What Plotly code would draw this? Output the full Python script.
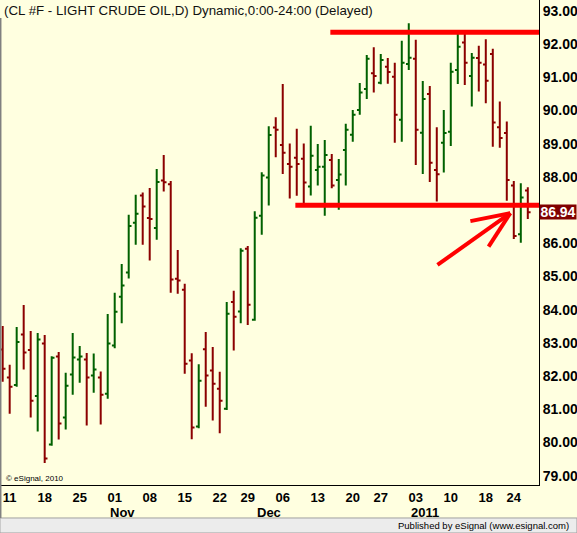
import plotly.graph_objects as go
import pandas as pd

# dias de negociacion (sin fines de semana ni festivos)
holidays = ["2010-11-25", "2010-12-24", "2011-01-17"]
dates = [d for d in pd.bdate_range("2010-10-08", "2011-01-26") if d.strftime("%Y-%m-%d") not in holidays]

open_ = [82.80, 81.96, 81.73, 83.25, 82.79, 81.40, 82.98, 79.94, 82.59, 80.75,
         82.05, 82.50, 82.50, 82.02, 81.96, 81.47, 82.92, 84.39, 85.12, 86.62,
         87.44, 86.76, 86.46, 87.89, 87.78, 84.93, 84.60, 82.47, 80.48, 82.81,
         82.17, 81.62, 81.02, 84.23, 83.95, 85.84, 83.70, 86.83, 87.98, 89.49,
         88.96, 88.39, 88.58, 88.55, 87.71, 88.21, 88.31, 88.51, 87.91, 88.81,
         89.27, 90.02, 90.65, 91.12, 90.84, 91.32, 91.02, 89.72, 91.40, 91.56,
         89.33, 90.50, 88.21, 89.03, 89.36, 91.22, 92.05, 91.04, 91.58, 91.39,
         91.70, 89.50, 89.32, 87.74, 86.27, 87.59]
high = [83.51, 82.34, 83.48, 84.14, 83.36, 83.30, 83.24, 82.60, 82.73, 82.10,
        83.30, 82.91, 82.70, 82.68, 82.14, 83.87, 84.51, 85.38, 86.86, 87.46,
        87.53, 87.67, 88.24, 88.66, 87.88, 85.80, 84.78, 82.69, 82.36, 83.33,
        82.88, 82.13, 84.23, 84.57, 85.85, 85.92, 86.97, 88.14, 89.53, 89.80,
        90.80, 89.01, 89.45, 89.01, 89.54, 88.99, 89.11, 88.69, 88.54, 89.60,
        90.02, 90.83, 91.67, 91.91, 91.70, 91.58, 91.44, 92.10, 92.63, 92.13,
        90.89, 90.74, 89.50, 90.02, 91.44, 92.43, 92.43, 91.73, 91.95, 92.15,
        91.86, 90.27, 89.67, 87.88, 87.81, 87.69]
low = [81.83, 80.87, 81.68, 82.20, 80.75, 80.33, 79.38, 79.90, 80.09, 80.39,
       81.44, 81.80, 80.51, 81.50, 80.54, 81.32, 82.84, 83.59, 84.94, 85.96,
       85.96, 85.48, 86.11, 87.56, 84.51, 84.48, 82.07, 80.10, 80.43, 81.08,
       80.66, 80.28, 80.98, 82.77, 83.59, 83.54, 83.67, 86.26, 87.14, 88.59,
       88.09, 87.35, 87.43, 87.11, 87.44, 87.74, 86.83, 87.66, 87.01, 87.74,
       89.06, 89.87, 90.35, 90.54, 90.79, 90.81, 89.03, 89.06, 91.22, 88.36,
       88.09, 87.85, 87.26, 88.13, 88.93, 90.80, 90.77, 90.12, 90.57, 90.22,
       88.91, 88.88, 87.28, 86.13, 86.02, 86.73]
close = [82.22, 81.68, 83.03, 82.71, 81.26, 83.10, 79.52, 82.55, 80.57, 81.71,
         82.56, 82.59, 81.96, 82.20, 81.44, 82.98, 83.94, 84.73, 86.52, 86.89,
         87.11, 86.73, 87.85, 87.84, 84.91, 84.88, 82.37, 80.45, 81.86, 82.02,
         81.77, 81.26, 83.88, 83.79, 85.78, 84.15, 86.77, 88.04, 89.26, 89.42,
         88.73, 88.31, 88.39, 87.83, 88.64, 88.31, 88.66, 87.74, 88.07, 89.42,
         89.87, 90.54, 91.56, 91.04, 91.52, 91.16, 89.87, 91.44, 91.59, 89.42,
         90.35, 88.43, 88.08, 89.32, 91.17, 91.92, 91.44, 91.59, 91.44, 90.90,
         89.64, 89.17, 87.91, 86.22, 87.38, 86.94]

price_ticks = [79, 80, 81, 82, 83, 84, 85, 86, 88, 89, 90, 91, 92, 93]

# lineas dibujadas a mano (indice de barra, precio)
resistance = dict(x0=46.8, price=92.36)
support = dict(x0=41.8, price=87.15)
arrow_shaft = [(62.1, 85.35), (72.5, 86.91)]
arrow_barbs = [(66.8, 86.67), (69.4, 85.90)]

GREEN = "#006000"
RED = "#8B0000"
BG = "#FFFFE0"

x = list(range(len(dates)))

# primer dia de cada semana y de cada mes
week_idx = [i for i in x[1:] if dates[i].weekday() < dates[i - 1].weekday()]
week_txt = [dates[i].strftime("%d") for i in week_idx]
month_idx = [i for i in x[1:] if dates[i].month != dates[i - 1].month]

fig = go.Figure()

fig.add_trace(go.Ohlc(
    x=x, open=open_, high=high, low=low, close=close,
    increasing=dict(line=dict(color=GREEN, width=2)),
    decreasing=dict(line=dict(color=RED, width=2)),
    tickwidth=0.4,
    hoverinfo="skip",
    showlegend=False,
))

fig.update_layout(
    width=577, height=533,
    margin=dict(l=1, r=38, t=0, b=48),
    paper_bgcolor=BG, plot_bgcolor=BG,
    font=dict(family="Liberation Sans", color="black"),
    showlegend=False,
    xaxis=dict(
        range=[-0.24, 76.6], rangeslider=dict(visible=False),
        tickmode="array", tickvals=week_idx, ticktext=week_txt,
        tickfont=dict(size=13, weight="bold"),
        showgrid=False, zeroline=False, ticks="", automargin=False,
        showline=True, linecolor="black", linewidth=1,
    ),
    yaxis=dict(
        side="right", range=[78.72, 93.33],
        tickmode="array", tickvals=price_ticks, tickformat=".2f",
        tickfont=dict(size=14, weight="bold"),
        showgrid=False, zeroline=False, ticks="", automargin=False,
        showline=True, linecolor="black", linewidth=1,
    ),
)

# lineas rojas de soporte / resistencia
for lvl in (resistance, support):
    fig.add_shape(type="line", xref="x", yref="y",
                  x0=lvl["x0"], x1=76.6, y0=lvl["price"], y1=lvl["price"],
                  line=dict(color="#FF0000", width=5))

# flecha
tip = arrow_shaft[1]
fig.add_shape(type="line", xref="x", yref="y",
              x0=arrow_shaft[0][0], y0=arrow_shaft[0][1], x1=tip[0], y1=tip[1],
              line=dict(color="#FF0000", width=4))
for bx, by in arrow_barbs:
    fig.add_shape(type="line", xref="x", yref="y",
                  x0=bx, y0=by, x1=tip[0], y1=tip[1],
                  line=dict(color="#FF0000", width=4))

# etiquetas de mes
for i in month_idx:
    label = str(dates[i].year) if dates[i].month == 1 else dates[i].strftime("%b")
    fig.add_annotation(x=i, y=-0.0557, xref="x", yref="paper", text=label,
                       showarrow=False, xanchor="left", yanchor="middle", xshift=-7,
                       font=dict(size=13, weight="bold"))

# ultimo precio
fig.add_annotation(x=1, y=close[-1], xref="paper", yref="y", text=f"{close[-1]:.2f}",
                   showarrow=False, xanchor="left", yanchor="middle",
                   bgcolor="#800000", width=36, height=14, borderpad=0,
                   font=dict(size=14, weight="bold", color="white"))

# titulo y textos
fig.add_annotation(x=0.002, y=0.979, xref="paper", yref="paper",
                   text="(CL #F - LIGHT CRUDE OIL,D) Dynamic,0:00-24:00 (Delayed)",
                   showarrow=False, xanchor="left", yanchor="middle",
                   font=dict(size=13.3, color="#111111"))
fig.add_annotation(x=0.006, y=0.0144, xref="paper", yref="paper", text="© eSignal, 2010",
                   showarrow=False, xanchor="left", yanchor="middle",
                   font=dict(size=8))

# barra de estado inferior y borde izquierdo
fig.add_shape(type="rect", xref="paper", yref="paper",
              x0=-0.002, x1=1.0706, y0=-0.099, y1=-0.068,
              fillcolor="#ECECEC", line=dict(color="#A0A0A0", width=1))
fig.add_shape(type="line", xref="paper", yref="paper",
              x0=-0.001, x1=-0.001, y0=0.963, y1=-0.068,
              line=dict(color="#808080", width=2))
fig.add_annotation(x=1.0595, y=-0.0835, xref="paper", yref="paper",
                   text="Published by eSignal (www.esignal.com)",
                   showarrow=False, xanchor="right", yanchor="middle",
                   font=dict(size=9.5))

# sin margen del body para que la figura ocupe la ventana exacta
fig.write_html("out.html", config={"displayModeBar": False},
               post_script="document.body.style.margin='0';")
